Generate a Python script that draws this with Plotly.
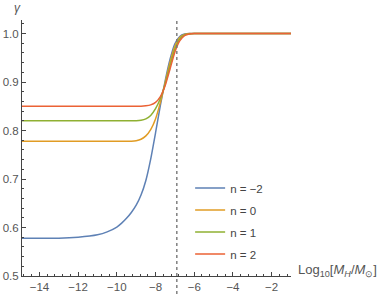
import plotly.graph_objects as go

# ---- data ----
x_vals = [-14.9, -13.0, -12.0, -11.0, -10.5, -10.0, -9.75, -9.5, -9.25, -9.0, -8.75, -8.5, -8.25,
          -8.0, -7.75, -7.5, -7.25, -7.0, -6.75, -6.5, -6.25, -6.0, -5.0, -1.0]

gamma_n_m2 = [0.578, 0.578, 0.580, 0.585, 0.591, 0.601, 0.609, 0.619, 0.631, 0.646, 0.667, 0.697, 0.741,
              0.795, 0.852, 0.903, 0.947, 0.979, 0.994, 0.999, 1.0, 1.0, 1.0, 1.0]
gamma_n_0 = [0.778, 0.778, 0.778, 0.778, 0.778, 0.778, 0.778, 0.778, 0.778, 0.779, 0.782, 0.789, 0.802,
             0.824, 0.858, 0.899, 0.941, 0.974, 0.992, 0.998, 1.0, 1.0, 1.0, 1.0]
gamma_n_1 = [0.820, 0.820, 0.820, 0.820, 0.820, 0.820, 0.820, 0.820, 0.820, 0.820, 0.821, 0.824, 0.831,
             0.845, 0.866, 0.896, 0.934, 0.968, 0.989, 0.997, 0.999, 1.0, 1.0, 1.0]
gamma_n_2 = [0.850, 0.850, 0.850, 0.850, 0.850, 0.850, 0.850, 0.850, 0.850, 0.850, 0.850, 0.851, 0.853,
             0.858, 0.870, 0.893, 0.927, 0.962, 0.985, 0.996, 0.999, 1.0, 1.0, 1.0]

series_names = ["n = \u22122", "n = 0", "n = 1", "n = 2"]
series_values = [gamma_n_m2, gamma_n_0, gamma_n_1, gamma_n_2]
series_colors = ["#5E81B5", "#E19C24", "#8FB032", "#EB6235"]

x_tick_vals = [-14, -12, -10, -8, -6, -4, -2]
y_tick_vals = [0.5, 0.6, 0.7, 0.8, 0.9, 1.0]
vline_x = -6.9

FONT = "Liberation Sans, Arial, sans-serif"
TXT = "#555555"
AX = "#444444"

fig = go.Figure()
for i, (name, yv, col) in enumerate(zip(series_names, series_values, series_colors)):
    fig.add_trace(go.Scatter(
        x=x_vals, y=yv, mode="lines", name=name,
        line=dict(color=col, width=1.5, shape="spline", smoothing=0.5),
        legendgroup=f"g{i}",
    ))

fig.add_shape(type="line", xref="x", yref="paper", x0=vline_x, x1=vline_x,
              y0=-0.07, y1=1.0, line=dict(color="#777777", width=1.4, dash="dot"))

fig.update_layout(
    width=382, height=294,
    margin=dict(l=22, r=91, t=20, b=18, autoexpand=False),
    paper_bgcolor="white", plot_bgcolor="white",
    font=dict(family=FONT, size=11.5, color=TXT),
    showlegend=True,
    legend=dict(x=0.625, y=0.40, xanchor="left", yanchor="top",
                bgcolor="rgba(0,0,0,0)", tracegroupgap=3,
                font=dict(family=FONT, size=11.5, color="#444444")),
    xaxis=dict(range=[-14.9, -1.0], showgrid=False, zeroline=False, automargin=False,
               showline=True, linecolor=AX, linewidth=1,
               tickmode="array", tickvals=x_tick_vals,
               ticks="inside", ticklen=4, tickcolor=AX, tickwidth=1,
               minor=dict(dtick=0.4, tick0=-14, ticks="inside", ticklen=2, tickcolor=AX),
               tickfont=dict(family=FONT, size=11.5, color=TXT)),
    yaxis=dict(range=[0.5, 1.028], showgrid=False, zeroline=False, automargin=False,
               showline=True, linecolor=AX, linewidth=1,
               tickmode="array", tickvals=y_tick_vals, tickformat=".1f",
               ticks="inside", ticklen=4, tickcolor=AX, tickwidth=1,
               minor=dict(dtick=0.02, tick0=0.5, ticks="inside", ticklen=2, tickcolor=AX),
               tickfont=dict(family=FONT, size=11.5, color=TXT)),
)

fig.add_annotation(xref="paper", yref="paper", x=1.017, y=0.02, xanchor="left", yanchor="middle",
                   text="Log<sub>10</sub>[<i>M<sub>H</sub></i>/<i>M</i><sub>\u2299</sub>]",
                   showarrow=False, font=dict(family=FONT, size=13, color=TXT))
fig.add_annotation(xref="paper", yref="paper", x=-0.015, y=1.01, xanchor="center", yanchor="bottom",
                   text="<i>\u03b3</i>", showarrow=False, font=dict(family=FONT, size=12, color=TXT))

# remove the default 8px body margin so the 382x294 figure fills the window exactly
fig.write_html("out.html", config={"displayModeBar": False},
               post_script="document.body.style.margin='0px';document.body.style.overflow='hidden';")
